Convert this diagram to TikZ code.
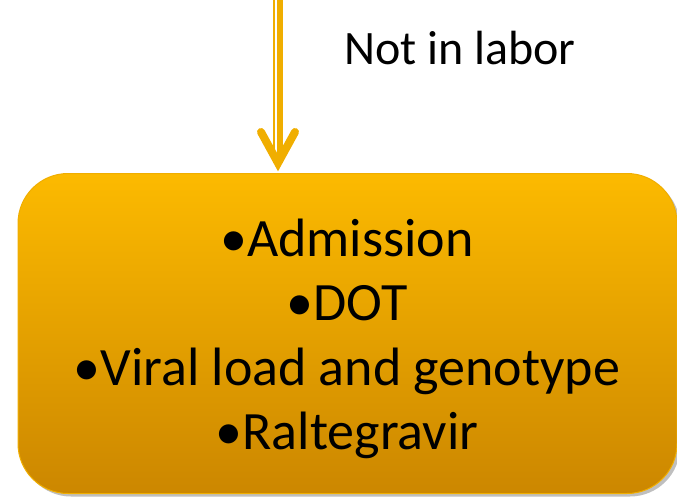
\documentclass[tikz,border=0pt]{standalone}
\usepackage{fontspec}
\setmainfont{Carlito}
\usetikzlibrary{shadows}
\definecolor{ambertop}{HTML}{FCBA00}
\definecolor{amberbot}{HTML}{CC8700}
\definecolor{amberline}{HTML}{F0AE00}
\tikzset{
  stepbox/.style={draw=amberline, line width=1pt, rounded corners=50pt,
    top color=ambertop, bottom color=amberbot,
    minimum width=659pt, minimum height=320pt,
    drop shadow={shadow xshift=3pt, shadow yshift=-3pt, opacity=.25, fill=black}},
  steptext/.style={align=center, font=\fontsize{54}{64.5}\selectfont},
  shaft/.style={draw=amberline, line cap=butt}
}
\begin{document}
\begin{tikzpicture}[x=1pt,y=-1pt]
\useasboundingbox (0,0) rectangle (677,496);
\node[stepbox] (admit) at (347.5,333.5) {};
\node[steptext] (steps) at (347,339) {•Admission\\•DOT\\•Viral load and genotype\\•Raltegravir};
\node[font=\fontsize{48}{58}\selectfont, anchor=base] (cond) at (460,64) {Not in labor};
% arrow into the box
\coordinate (src) at (278,0);
\coordinate (tip) at (278,163);
\draw[shaft, line width=2pt] ([xshift=-4pt]src) -- ([xshift=-4pt]tip);
\draw[shaft, line width=6pt] ([xshift=2pt]src) -- ([xshift=2pt]tip);
\draw[shaft, line width=8pt, line cap=round] ([xshift=-17pt,yshift=31pt]tip) -- (tip) -- ([xshift=17pt,yshift=31pt]tip);
\end{tikzpicture}
\end{document}
